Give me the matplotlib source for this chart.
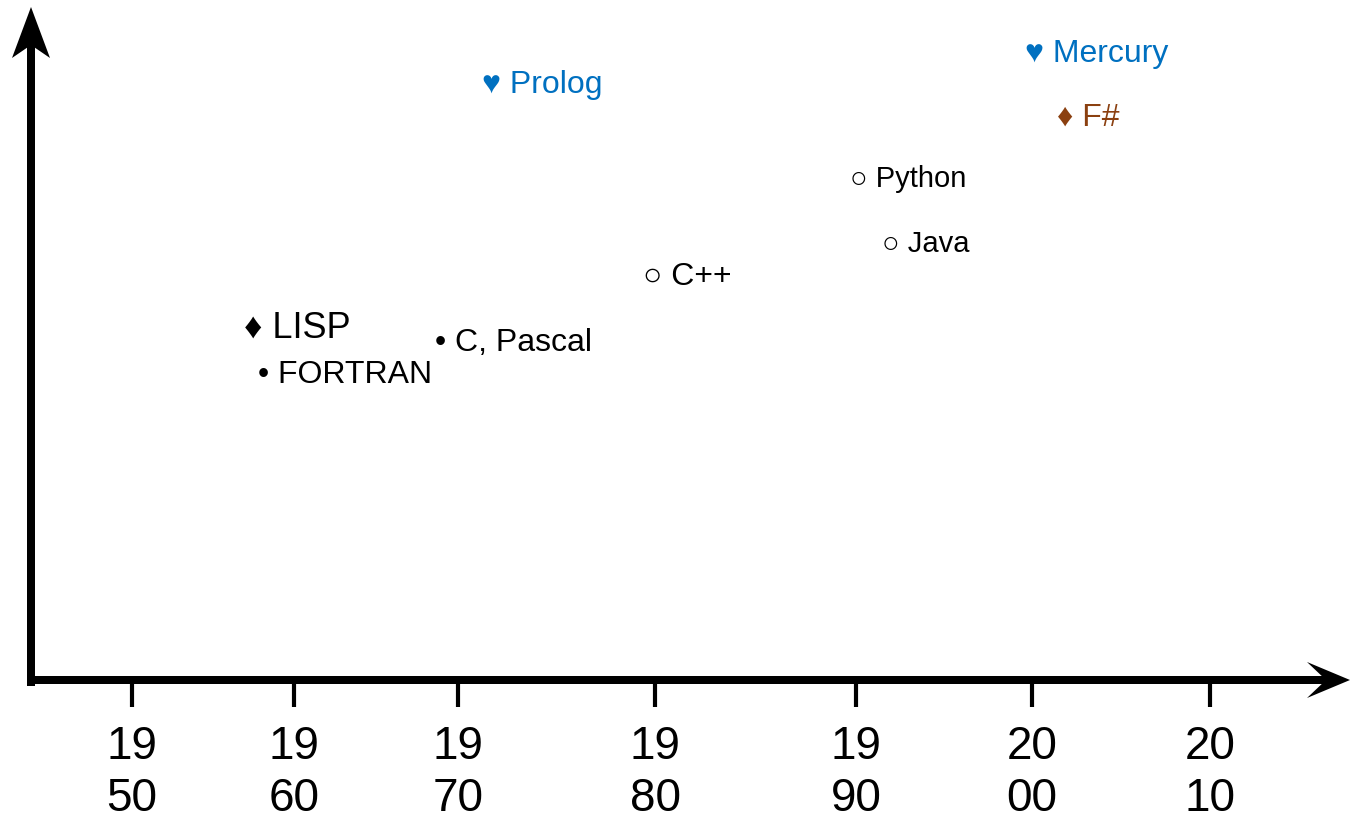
import numpy as np
import matplotlib
matplotlib.use("Agg")
import matplotlib.pyplot as plt
import matplotlib.transforms as mtransforms
from matplotlib.patches import Polygon, Rectangle

W, H, DPI = 1350, 823, 100

# tick years and where they sit along the axis (uneven spacing in the original)
tick_years = [1950, 1960, 1970, 1980, 1990, 2000, 2010]
tick_pos = [132, 294, 458, 655, 856, 1032, 1210]

# languages: (year, height)
names = ["Mercury", "Prolog", "F#", "Python", "Java", "C++", "LISP", "C, Pascal", "FORTRAN"]
symbols = ["\u2665", "\u2665", "\u2666", "\u25cb", "\u25cb", "\u25cb", "\u2666", "\u2022", "\u2022"]
years = [1999.6, 1971.2, 2001.4, 1989.7, 1991.5, 1979.4, 1956.9, 1968.6, 1957.8]
heights = [90.9, 86.3, 81.6, 72.5, 62.9, 58.1, 50.3, 48.4, 43.7]
sizes = [23, 23, 23, 21, 21, 23, 26, 23, 23]
colors = ["#0070c0", "#0070c0", "#8b4010", "black", "black", "black", "black", "black", "black"]

fam = ["Liberation Sans", "DejaVu Sans"]
plt.rcParams["font.family"] = fam

ext_years = [1940] + tick_years + [2020]
ext_pos = [tick_pos[0] - (tick_pos[1] - tick_pos[0])] + tick_pos + [tick_pos[-1] + (tick_pos[-1] - tick_pos[-2])]


def fwd(x):
    return np.interp(x, ext_years, ext_pos)


def inv(p):
    return np.interp(p, ext_pos, ext_years)


fig = plt.figure(figsize=(W / DPI, H / DPI), dpi=DPI)
x0, y0 = 31, 680
ax = fig.add_axes([x0 / W, (H - y0) / H, (W - x0) / W, y0 / H])
ax.set_xscale("function", functions=(fwd, inv))
ax.set_xlim(inv(x0), inv(W))
ax.set_ylim(0, 100)
for s in ax.spines.values():
    s.set_visible(False)
ax.set_yticks([])
ax.set_xticks(tick_years)
ax.set_xticklabels([f"{y // 100}\n{y % 100:02d}" for y in tick_years])
ax.tick_params(axis="x", direction="out", length=19.5, width=3, pad=13, labelsize=33, color="black")
plt.setp(ax.get_xticklabels(), linespacing=1.24)

for name, sym, x, y, fs, c in zip(names, symbols, years, heights, sizes, colors):
    ax.text(x, y, f"{sym} {name}", ha="left", va="baseline", fontsize=fs, color=c, family=fam)

# axis arrows, drawn in pixel coordinates (origin top-left)
px = mtransforms.Affine2D().scale(1, -1).translate(0, H)
arts = [
    Rectangle((27, 45), 8, 641),
    Rectangle((27, 676), 1300, 8),
    Polygon([(31, 7), (50, 58), (31, 45), (12, 58)], closed=True),
    Polygon([(1350, 680), (1307, 698), (1326, 680), (1307, 662)], closed=True),
]
for a in arts:
    a.set_facecolor("black")
    a.set_edgecolor("none")
    a.set_transform(px)
    fig.add_artist(a)

fig.savefig("out.png", dpi=DPI)
